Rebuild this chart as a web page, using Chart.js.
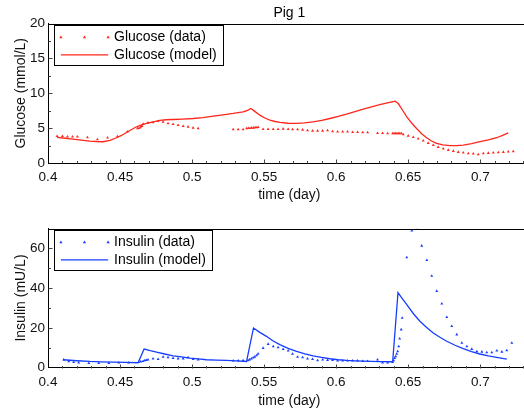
<!DOCTYPE html>
<html>
<head>
<meta charset="utf-8">
<script src="https://cdn.jsdelivr.net/npm/chart.js@4.4.1/dist/chart.umd.min.js"></script>
<style>
html,body{margin:0;padding:0;background:#fff;overflow:hidden;width:524px;height:412px;}
canvas{position:absolute;left:0;}
#c1{top:0;}
#c2{top:210px;}
</style>
</head>
<body>
<canvas id="c1" width="540" height="210" style="width:540px;height:210px"></canvas>
<canvas id="c2" width="540" height="202" style="width:540px;height:202px"></canvas>
<script>
// ---------- DATA ----------
const figureTitle = 'Pig 1';
const xAxisTitle = 'time (day)';
const glucoseAxisTitle = 'Glucose (mmol/L)';
const insulinAxisTitle = 'Insulin (mU/L)';
const glucoseDataLabel = 'Glucose (data)';
const glucoseModelLabel = 'Glucose (model)';
const insulinDataLabel = 'Insulin (data)';
const insulinModelLabel = 'Insulin (model)';

const xTickValues = [0.4, 0.45, 0.5, 0.55, 0.6, 0.65, 0.7];
const glucoseTickValues = [0, 5, 10, 15, 20];
const insulinTickValues = [0, 20, 40, 60];

const glucoseDataT = [0.4063,0.4100,0.4135,0.4170,0.4204,0.4274,0.4343,0.4413,0.4482,0.4551,0.4621,0.4632,0.4642,0.4652,0.4660,0.4694,0.4729,0.4764,0.4799,0.4833,0.4868,0.4903,0.4938,0.4972,0.5007,0.5042,
  0.5285,0.5320,0.5354,0.5378,0.5390,0.5402,0.5414,0.5426,0.5438,0.5450,0.5458,0.5493,0.5528,0.5563,0.5597,0.5632,0.5667,0.5697,0.5732,0.5767,0.5801,0.5836,0.5871,0.5906,0.5940,0.5975,0.6010,0.6045,0.6079,0.6114,0.6149,0.6184,0.6218,
  0.6287,0.6322,0.6357,0.6392,0.6402,0.6412,0.6422,0.6432,0.6442,0.6452,0.6465,0.6500,0.6535,0.6569,0.6604,0.6639,0.6674,0.6708,0.6743,0.6778,0.6813,0.6847,0.6882,0.6917,0.6951,0.6986,0.7021,0.7056,0.7090,0.7125,0.7160,0.7194,0.7229];
const glucoseDataV = [3.86,3.86,3.76,3.76,3.76,3.67,3.38,3.62,3.81,4.48,4.95,5.0,5.1,5.3,5.6,5.76,5.81,6.0,5.9,5.67,5.57,5.43,5.29,5.19,5.05,4.95,
  4.81,4.81,4.81,4.95,5.0,5.0,5.05,5.05,5.1,5.1,5.15,4.86,4.86,4.86,4.86,4.9,4.86,4.81,4.81,4.76,4.67,4.62,4.62,4.62,4.67,4.52,4.48,4.48,4.48,4.43,4.43,4.38,4.38,
  4.29,4.29,4.24,4.24,4.24,4.24,4.24,4.24,4.24,4.24,4.1,3.9,3.71,3.48,3.19,2.86,2.57,2.29,2.05,1.86,1.71,1.57,1.48,1.38,1.33,1.24,1.38,1.43,1.48,1.52,1.57,1.62,1.67];

const glucoseModelT = [0.4063,0.4120,0.4174,0.4230,0.4290,0.4335,0.4382,0.4430,0.4475,0.4510,0.4544,0.4580,0.4614,0.4650,0.4683,0.4730,0.4776,0.4820,0.4868,0.4935,0.5007,0.5076,0.5146,0.5215,0.5285,0.5354,0.5385,0.5408,0.5435,0.5470,0.5505,0.5540,0.5575,0.5609,0.5667,0.5725,0.5780,0.5840,0.5900,0.5956,0.6015,0.6072,0.6130,0.6188,0.6245,0.6303,0.6355,0.6395,0.6408,0.6431,0.6460,0.6490,0.6525,0.6558,0.6593,0.6628,0.6662,0.6697,0.6740,0.6790,0.6835,0.6882,0.6940,0.6998,0.7056,0.7114,0.7155,0.7194];
const glucoseModelV = [3.67,3.55,3.43,3.28,3.14,3.08,3.05,3.25,3.62,3.95,4.38,4.80,5.19,5.45,5.67,5.90,6.10,6.20,6.24,6.30,6.38,6.52,6.71,6.90,7.10,7.33,7.55,7.81,7.40,6.86,6.45,6.14,5.95,5.81,5.70,5.67,5.75,5.90,6.12,6.38,6.68,7.00,7.35,7.71,8.05,8.38,8.62,8.80,8.86,8.52,7.60,6.62,5.70,4.95,4.20,3.62,3.15,2.81,2.60,2.48,2.50,2.57,2.78,3.05,3.32,3.62,3.95,4.33];

const insulinDataT = [0.4109,0.4144,0.4178,0.4213,0.4283,0.4352,0.4422,0.4491,0.4560,0.4630,0.4644,0.4660,0.4672,0.4683,0.4694,0.4729,0.4764,0.4799,0.4833,0.4868,0.4903,0.4938,0.4972,0.5007,0.5042,
  0.5285,0.5320,0.5354,0.5389,0.5400,0.5412,0.5424,0.5435,0.5447,0.5458,0.5493,0.5528,0.5563,0.5597,0.5632,0.5667,0.5697,0.5732,0.5767,0.5801,0.5836,0.5871,0.5906,0.5940,0.5975,0.6010,0.6045,0.6079,0.6114,0.6149,0.6184,0.6218,
  0.6287,0.6322,0.6357,0.6392,0.6399,0.6406,0.6413,0.6420,0.6427,0.6434,0.6441,0.6451,0.6458,0.6490,0.6525,0.6559,0.6594,0.6629,0.6663,0.6698,0.6733,0.6768,0.6802,0.6837,0.6872,0.6907,0.6941,0.6976,0.7011,0.7045,0.7080,0.7115,0.7150,0.7184,0.7219];
const insulinDataV = [3.9,3.04,2.73,2.38,2.2,2.2,2.2,2.38,2.38,2.7,3.0,3.2,3.55,3.7,3.9,4.4,4.2,5.3,5.1,4.7,4.5,4.5,5.1,4.2,3.9,
  3.4,3.4,3.55,3.55,4.0,4.4,4.9,5.4,6.1,6.9,9.8,11.8,10.6,10.1,9.2,8.5,6.8,5.3,5.1,4.4,4.2,3.55,3.9,3.7,3.7,3.4,3.4,3.4,3.4,3.4,3.2,3.2,
  3.9,2.4,2.4,2.7,3.55,4.7,5.6,6.8,8.1,10.6,14.5,19.1,25.0,55.4,68.9,70.5,61.3,54.0,46.1,38.5,32.1,25.3,20.8,16.6,12.4,10.6,9.3,8.1,7.9,7.6,7.6,8.5,7.9,8.6,12.4];

const insulinModelT = [0.4104,0.4200,0.4290,0.4370,0.4451,0.4540,0.4625,0.4667,0.4710,0.4753,0.4810,0.4868,0.4926,0.4984,0.5042,0.5100,0.5170,0.5239,0.5310,0.5378,0.5426,0.5470,0.5516,0.5560,0.5609,0.5667,0.5725,0.5783,0.5840,0.5898,0.5956,0.6014,0.6072,0.6130,0.6188,0.6245,0.6303,0.6392,0.6429,0.6460,0.6490,0.6535,0.6581,0.6628,0.6674,0.6720,0.6767,0.6825,0.6882,0.6940,0.6998,0.7056,0.7114,0.7184];
const insulinModelV = [3.9,3.4,3.04,2.85,2.7,2.55,2.38,9.3,8.5,7.8,6.8,5.9,5.3,4.75,4.3,3.9,3.7,3.55,3.3,3.04,19.9,17.7,15.7,13.5,11.5,9.6,8.1,6.9,5.9,5.1,4.4,3.9,3.55,3.35,3.2,3.1,3.0,2.9,37.7,34.6,31.7,27.2,23.3,20.2,17.4,15.2,13.2,11.2,9.5,8.0,6.8,5.9,5.1,4.25];

// ---------- STYLE ----------
const RED = 'rgb(255,38,28)';
const BLUE = 'rgb(22,62,255)';
const FONT = '"Liberation Sans", Arial, Helvetica, sans-serif';

function pts(t, v) { return t.map((x, i) => ({x: x, y: v[i]})); }

function drawTri(ctx, x, y, r, color) {
  ctx.fillStyle = color;
  ctx.beginPath();
  ctx.moveTo(x, y - r);
  ctx.lineTo(x + r * 0.95, y + r * 0.6);
  ctx.lineTo(x - r * 0.95, y + r * 0.6);
  ctx.closePath();
  ctx.fill();
}

const framePlugin = {
  id: 'framePlugin',
  afterDraw(chart, args, opts) {
    const {ctx, chartArea} = chart;
    const {left, right, top, bottom} = chartArea;
    const xs = chart.scales.x, ys = chart.scales.y;
    ctx.save();
    ctx.strokeStyle = '#000';
    ctx.lineWidth = 1;
    ctx.beginPath();
    ctx.moveTo(left, Math.round(top) + 0.5);
    ctx.lineTo(right, Math.round(top) + 0.5);
    ctx.moveTo(Math.round(right) + 0.5, top);
    ctx.lineTo(Math.round(right) + 0.5, bottom);
    ctx.stroke();
    // ticks (inward)
    ctx.lineWidth = 1;
    ctx.strokeStyle = '#444';
    ctx.beginPath();
    const by = Math.round(bottom) + 0.5;
    for (let k = 41; k <= 73; k++) {
      const v = k / 100;
      const px = Math.round(xs.getPixelForValue(v)) + 0.5;
      if (px < left || px > right) continue;
      const major = xTickValues.some(t => Math.abs(t - v) < 1e-9);
      ctx.moveTo(px, by);
      ctx.lineTo(px, by - (major ? 4 : 2.5));
    }
    const lx = Math.round(left) + 0.5;
    const yt = opts.yTicks, minorStep = opts.yMinor;
    for (let v = ys.min + minorStep; v < ys.max; v += minorStep) {
      const py = Math.round(ys.getPixelForValue(v)) + 0.5;
      const major = yt.some(t => Math.abs(t - v) < 1e-9);
      ctx.moveTo(lx, py);
      ctx.lineTo(lx + (major ? 4 : 2.5), py);
    }
    ctx.stroke();

    // title
    if (opts.title) {
      ctx.fillStyle = '#000';
      ctx.font = '14px ' + FONT;
      ctx.textAlign = 'center';
      ctx.textBaseline = 'middle';
      ctx.fillText(opts.title, (left + right) / 2, 13.5);
    }

    // legend
    const ds = chart.data.datasets;
    ctx.font = '14px ' + FONT;
    const tw = Math.max(ctx.measureText(ds[0].label).width, ctx.measureText(ds[1].label).width);
    const bx = Math.round(left + 6) + 0.5, byy = Math.round(top + 1.7) + 0.5;
    const bw = Math.round(59.5 + tw + 7), bh = 40;
    ctx.fillStyle = '#fff';
    ctx.fillRect(bx, byy, bw, bh);
    ctx.strokeStyle = '#000';
    ctx.lineWidth = 1;
    ctx.strokeRect(bx, byy, bw, bh);
    const r1 = byy + 11.7, r2 = byy + 29.3;
    [6.4, 30, 53.6].forEach(o => drawTri(ctx, bx + o, r1, 1.7, ds[0].pointBackgroundColor));
    ctx.strokeStyle = ds[1].borderColor;
    ctx.lineWidth = ds[1].borderWidth;
    ctx.beginPath();
    ctx.moveTo(bx + 6.4, r2);
    ctx.lineTo(bx + 53.7, r2);
    ctx.stroke();
    ctx.fillStyle = '#000';
    ctx.textAlign = 'left';
    ctx.textBaseline = 'middle';
    ctx.fillText(ds[0].label, bx + 59.5, r1);
    ctx.fillText(ds[1].label, bx + 59.5, r2);
    ctx.restore();
  }
};

function makeChart(id, cfg) {
  const canvasW = 540;
  return new Chart(document.getElementById(id), {
    data: {
      datasets: [
        {
          type: 'scatter', label: cfg.dataLabel, data: pts(cfg.dataT, cfg.dataV),
          pointStyle: 'triangle', pointRadius: 1.7, pointBorderWidth: 0,
          pointBackgroundColor: cfg.color, pointBorderColor: cfg.color, showLine: false
        },
        {
          type: 'line', label: cfg.modelLabel, data: pts(cfg.modelT, cfg.modelV),
          borderColor: cfg.color, borderWidth: 1.3, pointRadius: 0, tension: 0, fill: false
        }
      ]
    },
    options: {
      responsive: false,
      animation: false,
      devicePixelRatio: 1,
      layout: {padding: {top: cfg.padTop, right: canvasW - 530.7, left: 0, bottom: 0}},
      plugins: {
        legend: {display: false},
        tooltip: {enabled: false},
        framePlugin: {title: cfg.title, yTicks: cfg.yTicks, yMinor: cfg.yMinor}
      },
      scales: {
        x: {
          type: 'linear', min: 0.4, max: 0.735,
          grid: {display: false, drawTicks: false},
          border: {display: true, color: '#000', width: 1},
          afterBuildTicks: s => { s.ticks = xTickValues.map(v => ({value: v})); },
          afterFit: s => { s.height = cfg.xHeight; },
          ticks: {color: '#111', font: {family: FONT, size: 13.5}, padding: 6.5, maxRotation: 0,
                  callback: v => String(v)},
          title: {display: true, text: xAxisTitle, color: '#111', font: {family: FONT, size: 14},
                  padding: {top: 0, bottom: cfg.xTitlePad}}
        },
        y: {
          type: 'linear', min: 0, max: cfg.yMax,
          grid: {display: false, drawTicks: false},
          border: {display: true, color: '#000', width: 1},
          afterBuildTicks: s => { s.ticks = cfg.yTicks.map(v => ({value: v})); },
          afterFit: s => { s.width = 48; },
          ticks: {color: '#111', font: {family: FONT, size: 13.5}, padding: 3,
                  callback: v => String(v)},
          title: {display: true, text: cfg.yTitle, color: '#111', font: {family: FONT, size: 14},
                  padding: {top: 12.6, bottom: 0}}
        }
      }
    },
    plugins: [framePlugin]
  });
}

makeChart('c1', {
  dataLabel: glucoseDataLabel, modelLabel: glucoseModelLabel,
  dataT: glucoseDataT, dataV: glucoseDataV, modelT: glucoseModelT, modelV: glucoseModelV,
  color: RED, title: figureTitle, yTitle: glucoseAxisTitle,
  yMax: 20, yTicks: glucoseTickValues, yMinor: 2.5,
  padTop: 23.5, xHeight: 47, xTitlePad: 6.6
});

makeChart('c2', {
  dataLabel: insulinDataLabel, modelLabel: insulinModelLabel,
  dataT: insulinDataT, dataV: insulinDataV, modelT: insulinModelT, modelV: insulinModelV,
  color: BLUE, title: null, yTitle: insulinAxisTitle,
  yMax: 70, yTicks: insulinTickValues, yMinor: 10,
  padTop: 18.5, xHeight: 44.5, xTitlePad: 2.6
});
</script>
</body>
</html>
